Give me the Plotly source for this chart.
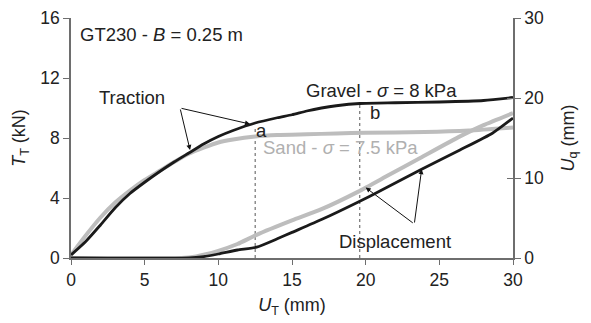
import plotly.graph_objects as go

# ---------------- data ----------------
ut_gravel_T = [0, 1, 2, 3, 4, 5, 6, 7, 8, 9, 10, 11, 12.5, 14, 15, 16, 17, 18, 19.6, 22, 25, 28, 30]
T_gravel = [0.2, 1.1, 2.2, 3.35, 4.3, 5.05, 5.75, 6.4, 7.0, 7.6, 8.1, 8.5, 9.0, 9.35, 9.55, 9.8, 10.0, 10.15, 10.3, 10.35, 10.4, 10.5, 10.7]

ut_sand_T = [0, 1, 2, 3, 4, 5, 6, 7, 8, 9, 10, 11, 12.5, 14, 16, 18, 20, 24, 27, 30]
T_sand = [0.2, 1.5, 2.7, 3.7, 4.5, 5.2, 5.8, 6.4, 6.95, 7.35, 7.7, 7.9, 8.1, 8.2, 8.25, 8.3, 8.35, 8.4, 8.5, 8.7]

ut_sand_U = [0, 7.5, 8.5, 9, 10, 11.3, 12.6, 15, 17, 19.5, 21.5, 23.7, 26.4, 28, 30]
Uq_sand = [0, 0, 0.2, 0.4, 0.9, 1.75, 2.9, 4.7, 6.1, 8.3, 10.3, 12.5, 15.2, 16.6, 18.1]

ut_gravel_U = [0, 8, 9, 10, 11.3, 12.6, 14, 15, 17, 19.5, 21, 23.7, 26.4, 28.6, 30]
Uq_gravel = [0, 0, 0.17, 0.5, 1.0, 1.35, 2.4, 3.2, 4.8, 7.0, 8.4, 11.0, 13.5, 15.6, 17.5]

marker_labels = ["a", "b"]
marker_x = [12.5, 19.6]
marker_top = [8.67, 10.33]

x_ticks = [0, 5, 10, 15, 20, 25, 30]
y_ticks = [0, 4, 8, 12, 16]
y2_ticks = [0, 10, 20, 30]

GREY = "#bdbdbd"
BLACK = "#1a1a1a"
AXIS = "#6e6e6e"
FONT = "Arial, Liberation Sans, sans-serif"

fig = go.Figure()

# dashed guide lines a, b
for xv, top in zip(marker_x, marker_top):
    fig.add_trace(go.Scatter(x=[xv, xv], y=[0, top], mode="lines",
                             line=dict(color="#555555", width=1, dash="dot"),
                             showlegend=False, hoverinfo="skip"))

fig.add_trace(go.Scatter(x=ut_sand_T, y=T_sand, mode="lines",
                         line=dict(color=GREY, width=4, shape="spline", smoothing=0.6), showlegend=False))
fig.add_trace(go.Scatter(x=ut_gravel_T, y=T_gravel, mode="lines",
                         line=dict(color=BLACK, width=2.8, shape="spline", smoothing=0.6), showlegend=False))
fig.add_trace(go.Scatter(x=ut_sand_U, y=Uq_sand, mode="lines", yaxis="y2",
                         line=dict(color=GREY, width=4, shape="spline", smoothing=0.5), showlegend=False))
fig.add_trace(go.Scatter(x=ut_gravel_U, y=Uq_gravel, mode="lines", yaxis="y2",
                         line=dict(color=BLACK, width=2.8, shape="spline", smoothing=0.5), showlegend=False))

tick_f = dict(family=FONT, size=17.5, color="#222222")
tf = dict(family=FONT, size=18.5, color="#222222")
title_f = dict(family=FONT, size=18, color="#222222")

# page has an 8px body margin, so the figure is 8px smaller and offset
fig.update_layout(
    width=583, height=315,
    margin=dict(l=63, r=78, t=10, b=65, autoexpand=False),
    paper_bgcolor="white", plot_bgcolor="white",
    font=tf,
    xaxis=dict(range=[0, 30], tickvals=x_ticks, ticks="outside", ticklen=5, tickcolor=AXIS,
               showline=True, linecolor=AXIS, linewidth=1.5, showgrid=False, zeroline=False,
               tickfont=tick_f, automargin=False,
               title=dict(text="<i>U</i><sub>T</sub> (mm)", font=title_f, standoff=10)),
    yaxis=dict(range=[0, 16], tickvals=y_ticks, ticks="outside", ticklen=6, tickcolor=AXIS,
               showline=True, linecolor=AXIS, linewidth=1.5, showgrid=False, zeroline=False,
               tickfont=tick_f, automargin=False,
               title=dict(text="<i>T</i><sub>T</sub> (kN)", font=title_f, standoff=10)),
    yaxis2=dict(range=[0, 30], tickvals=y2_ticks, overlaying="y", side="right",
                ticks="outside", ticklen=6, tickcolor=AXIS,
                showline=True, linecolor=AXIS, linewidth=1.5, showgrid=False, zeroline=False,
                tickfont=tick_f, automargin=False,
                title=dict(text="<i>U</i><sub>q</sub> (mm)", font=title_f, standoff=18)),
    yaxis3=dict(range=[0, 30], tickvals=y2_ticks, overlaying="y", side="right",
                ticks="inside", ticklen=6, tickcolor=AXIS, showticklabels=False,
                showline=False, showgrid=False, zeroline=False, automargin=False),
)
fig.add_trace(go.Scatter(x=[None], y=[None], yaxis="y3", showlegend=False))

ann = []
ann.append(dict(x=0.5, y=14.9, xref="x", yref="y", text="GT230 - <i>B</i> = 0.25 m",
                showarrow=False, xanchor="left", font=tf))
ann.append(dict(x=4.15, y=10.7, xref="x", yref="y", text="Traction", showarrow=False, font=tf))
ann.append(dict(x=21.1, y=11.2, xref="x", yref="y", text="Gravel - <i>σ</i> = 8 kPa",
                showarrow=False, font=tf))
ann.append(dict(x=18.3, y=7.4, xref="x", yref="y", text="Sand - <i>σ</i> = 7.5 kPa",
                showarrow=False, font=dict(family=FONT, size=18.5, color="#b0b0b0")))
ann.append(dict(x=12.95, y=8.5, xref="x", yref="y", text=marker_labels[0], showarrow=False, font=tf))
ann.append(dict(x=20.6, y=9.67, xref="x", yref="y", text=marker_labels[1], showarrow=False, font=tf))
ann.append(dict(x=22.0, y=1.07, xref="x", yref="y", text="Displacement", showarrow=False, font=tf))

# arrows
for hx, hy in [(12.15, 8.93), (8.08, 7.2)]:
    ann.append(dict(x=hx, y=hy, ax=7.4, ay=10.0, xref="x", yref="y", axref="x", ayref="y",
                    text="", showarrow=True, arrowhead=2, arrowsize=1, arrowwidth=1,
                    arrowcolor="#111111"))
for hx, hy in [(20.0, 8.8), (23.8, 11.1)]:
    ann.append(dict(x=hx, y=hy, ax=23.3, ay=4.25, xref="x", yref="y2", axref="x", ayref="y2",
                    text="", showarrow=True, arrowhead=2, arrowsize=1, arrowwidth=1,
                    arrowcolor="#111111"))
fig.update_layout(annotations=ann)

fig.write_html("out.html")
